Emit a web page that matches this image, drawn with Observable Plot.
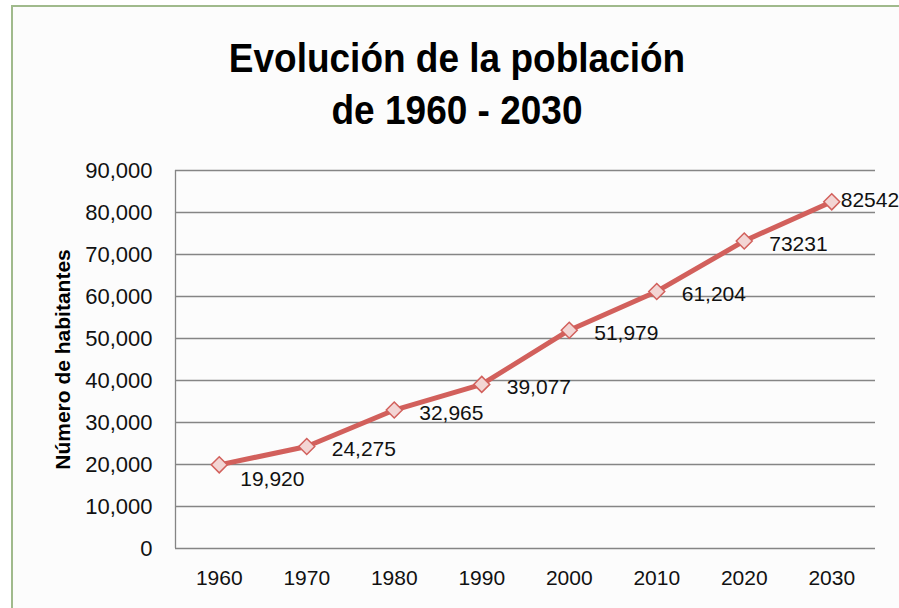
<!DOCTYPE html>
<html>
<head>
<meta charset="utf-8">
<script src="https://cdn.jsdelivr.net/npm/d3@7"></script>
<script src="https://cdn.jsdelivr.net/npm/@observablehq/plot@0.6"></script>
<style>
  html, body { margin: 0; padding: 0; background: #ffffff; width: 899px; height: 608px; overflow: hidden; }
  #frame { position: absolute; left: 11px; top: 5px; width: 900px; height: 620px;
           border-left: 2px solid #a0ba8c; border-top: 2px solid #a0ba8c; background: #fcfcfc; }
  #title { position: absolute; top: 32px; left: 15px; width: 884px; text-align: center;
           font-family: "Liberation Sans", Arial, sans-serif; font-weight: bold; font-size: 37px;
           line-height: 48px; color: #000; transform: scaleY(1.1); transform-origin: 50% 0; }
  #chart { position: absolute; top: 150px; left: 0; }
</style>
</head>
<body>
<div id="frame"></div>
<div id="title">Evolución de la población<br>de 1960 - 2030</div>
<div id="chart"></div>
<script>
const years = [1960, 1970, 1980, 1990, 2000, 2010, 2020, 2030];
const population = [19920, 24275, 32965, 39077, 51979, 61204, 73231, 82542];
const valueLabels = ["19,920", "24,275", "32,965", "39,077", "51,979", "61,204", "73231", "82542"];
const yTicks = [0, 10000, 20000, 30000, 40000, 50000, 60000, 70000, 80000, 90000];
const yTitle = "Número de habitantes";

const data = years.map((year, i) => ({year, pop: population[i], label: valueLabels[i], i}));

const lineColor = "#d2605c";
const font = "'Liberation Sans', Arial, sans-serif";

const chart = Plot.plot({
  width: 899,
  height: 458,
  marginLeft: 175,
  marginRight: 24,
  marginTop: 20,
  marginBottom: 60,
  style: { fontFamily: font, fontSize: "21px", background: "transparent", color: "#111" },
  x: { domain: [1955, 2035], axis: null },
  y: { domain: [0, 90000], axis: null },
  marks: [
    Plot.gridY(yTicks, { stroke: "#858585", strokeOpacity: 1, strokeWidth: 1.3 }),
    Plot.ruleX([1955], { y1: 0, y2: 90000, stroke: "#858585", strokeWidth: 1.3 }),
    Plot.axisY(yTicks, { label: null, tickSize: 0, tickPadding: 23, tickFormat: d3.format(","), fontSize: 22, fill: "#111" }),
    Plot.axisX(years, { label: null, tickSize: 0, tickPadding: 22, tickFormat: d => String(d), fontSize: 21, fill: "#111" }),
    Plot.text([yTitle], { frameAnchor: "left", textAnchor: "middle", rotate: -90, dx: -112, fontWeight: "bold", fontSize: 21, fill: "#000" }),
    Plot.line(data, { x: "year", y: "pop", stroke: lineColor, strokeWidth: 5 }),
    Plot.dot(data, { x: "year", y: "pop", symbol: "diamond2", r: 7.2, fill: "#f3d5d4", stroke: lineColor, strokeWidth: 1.5 }),
    Plot.text(data, { filter: d => d.i === 0, x: "year", y: "pop", text: "label", textAnchor: "start", dx: 21, dy: 14, fontSize: 21, fill: "#111" }),
    Plot.text(data, { filter: d => d.i > 0 && d.i < 7, x: "year", y: "pop", text: "label", textAnchor: "start", dx: 25, dy: 3, fontSize: 21, fill: "#111" }),
    Plot.text(data, { filter: d => d.i === 7, x: "year", y: "pop", text: "label", textAnchor: "start", dx: 9, dy: -2, fontSize: 21, fill: "#111" })
  ]
});
document.getElementById("chart").appendChild(chart);
</script>
</body>
</html>
